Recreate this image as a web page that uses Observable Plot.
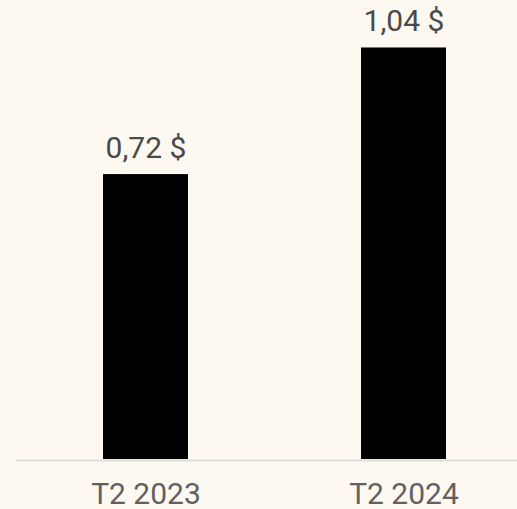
<!DOCTYPE html>
<html>
<head>
<meta charset="utf-8">
<script src="https://cdn.jsdelivr.net/npm/d3@7"></script>
<script src="https://cdn.jsdelivr.net/npm/@observablehq/plot@0.6"></script>
<style>
  html, body { margin: 0; padding: 0; background: #fdf9f1; }
  #chart svg { display: block; background: #fdf9f1; font-family: Roboto, sans-serif; }
</style>
</head>
<body>
<div id="chart"></div>
<script>
const periods = ["T2 2023", "T2 2024"];
const values = [0.72, 1.04];
const valueLabels = ["0,72 $", "1,04 $"];

const data = periods.map((p, i) => ({period: p, value: values[i], label: valueLabels[i]}));

const chart = Plot.plot({
  width: 517,
  height: 509,
  marginLeft: 16,
  marginRight: 0,
  marginTop: 0,
  marginBottom: 50,
  style: {background: "#fdf9f1", fontFamily: "Roboto, sans-serif"},
  x: {domain: periods, range: [33, 516.5], paddingInner: 0.671, paddingOuter: 0.27, label: null, axis: null},
  y: {domain: [0, 1.16], axis: null},
  marks: [
    Plot.barY(data, {x: "period", y: "value", fill: "#000000"}),
    Plot.ruleY([0], {stroke: "#dcdcdc", strokeWidth: 2, dy: 1}),
    Plot.text(data, {x: "period", y: "value", text: "label", lineAnchor: "bottom", dy: -17, fontSize: 30, fill: "#4a4a4a"}),
    Plot.text(data, {x: "period", y: 0, text: "period", lineAnchor: "bottom", dy: 44, fontSize: 30, fill: "#616161"})
  ]
});
document.getElementById("chart").appendChild(chart);
</script>
</body>
</html>
